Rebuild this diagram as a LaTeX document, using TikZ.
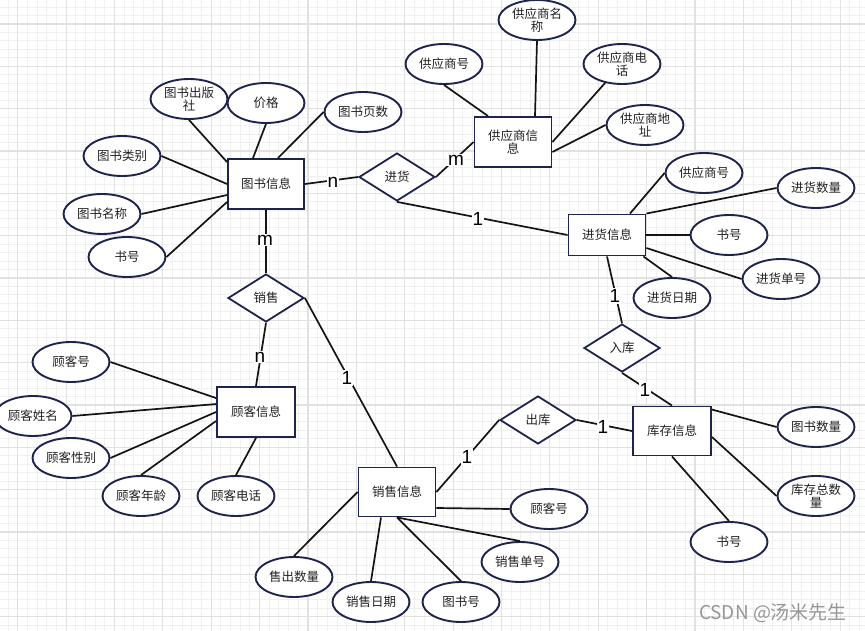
\documentclass[tikz,border=0pt]{standalone}
\usepackage{fontspec}
\setmainfont{Noto Sans CJK SC}
\newfontfamily\cardfont{Liberation Sans}
\usetikzlibrary{shapes.geometric}
\definecolor{navy}{RGB}{30,36,78}
\definecolor{conn}{RGB}{20,20,20}
\definecolor{txt}{RGB}{35,35,35}
\definecolor{gridmaj}{RGB}{225,225,225}
\definecolor{gridmin}{RGB}{240,240,240}
\tikzset{
  attr/.style={ellipse, draw=navy, fill=white, line width=1.9pt, minimum width=77pt,
    minimum height=40pt, inner sep=0pt, align=center, text=txt,
    font=\fontsize{12.5}{13}\selectfont},
  entity/.style={rectangle, draw=navy, fill=white, line width=1.9pt, minimum width=77pt,
    minimum height=50pt, inner sep=0pt, align=center, text=txt,
    font=\fontsize{12.5}{13}\selectfont},
  rel/.style={diamond, draw=navy, fill=white, line width=1.8pt, minimum width=76pt,
    minimum height=48pt, inner sep=0pt, text=txt, font=\fontsize{12.5}{13}\selectfont},
  card/.style={fill=white, inner sep=1pt, text=black, font=\cardfont\fontsize{19}{19}\selectfont},
}
\begin{document}
\begin{tikzpicture}[x=1pt, y=-1pt, line width=1.7pt]
  \useasboundingbox (0,0) rectangle (865,631);
  \fill[white] (0,0) rectangle (865,631);
  \foreach \k in {0,...,88}
    \draw[gridmin, line width=0.9pt] ({8.03+\k*9.675},0) -- ({8.03+\k*9.675},631);
  \foreach \k in {0,...,73}
    \draw[gridmin, line width=0.9pt] (0,{7.07+\k*8.466}) -- (865,{7.07+\k*8.466});
  \foreach \k in {0,...,17}
    \draw[gridmaj, line width=1.1pt] ({17.7+\k*48.375},0) -- ({17.7+\k*48.375},631);
  \foreach \k in {0,...,14}
    \draw[gridmaj, line width=1.1pt] (0,{24+\k*42.33}) -- (865,{24+\k*42.33});

  % book
  \node[entity, minimum width=76pt] (tsinfo) at (266,184) {图书信息};
  \node[attr] (cbs) at (189,99) {图书出版\\社};
  \node[attr] (jiage) at (266,103) {价格};
  \node[attr] (yeshu) at (363,112) {图书页数};
  \node[attr] (leibie) at (122,156) {图书类别};
  \node[attr] (mingcheng) at (102,214) {图书名称};
  \node[attr] (shuhao) at (127,257) {书号};
  \node[rel] (jinhuo) at (397,177) {进货};
  \node[rel] (xiaoshou) at (266,298) {销售};

  % supplier
  \node[entity] (gysinfo) at (513,142) {供应商信\\息};
  \node[attr] (gysh) at (444,64) {供应商号};
  \node[attr] (gysmc) at (537,20) {供应商名\\称};
  \node[attr] (gysdh) at (622,64) {供应商电\\话};
  \node[attr] (gysdz) at (645,125) {供应商地\\址};

  % purchase
  \node[entity, minimum height=41pt] (jhinfo) at (607,235) {进货信息};
  \node[attr] (jhgys) at (704,173) {供应商号};
  \node[attr] (jhsl) at (816,188) {进货数量};
  \node[attr] (jhsh) at (729,235) {书号};
  \node[attr] (jhdh) at (781,279) {进货单号};
  \node[attr] (jhrq) at (672,298) {进货日期};
  \node[rel] (ruku) at (622,348) {入库};

  % stock
  \node[entity, minimum width=78pt, minimum height=49pt] (kcinfo) at (672,431) {库存信息};
  \node[attr] (kcsl) at (816,427) {图书数量};
  \node[attr] (kczs) at (816,496) {库存总数\\量};
  \node[attr] (kcsh) at (729,542) {书号};
  \node[rel] (chuku) at (538,420) {出库};

  % sales
  \node[entity, minimum height=49pt] (xsinfo) at (397,492) {销售信息};
  \node[attr] (xsgk) at (549,509) {顾客号};
  \node[attr] (xsdh) at (520,562) {销售单号};
  \node[attr] (xstsh) at (461,602) {图书号};
  \node[attr] (xsrq) at (371,602) {销售日期};
  \node[attr] (xssl) at (294,577) {售出数量};

  % customer
  \node[entity, minimum width=78pt] (gkinfo) at (256,412) {顾客信息};
  \node[attr] (gkh) at (71,362) {顾客号};
  \node[attr] (gkxm) at (33,416) {顾客姓名};
  \node[attr] (gkxb) at (71,458) {顾客性别};
  \node[attr] (gknl) at (141,496) {顾客年龄};
  \node[attr] (gkdh) at (236,496) {顾客电话};

  \begin{scope}[draw=conn]
    \draw (cbs.south) -- ([yshift=-4pt]tsinfo.north west);
    \draw (jiage.south) -- ([xshift=-13pt]tsinfo.north);
    \draw (yeshu.west) -- ([xshift=12pt]tsinfo.north);
    \draw (leibie.east) -- (tsinfo.west);
    \draw (mingcheng.east) -- ([yshift=-11pt]tsinfo.west);
    \draw (shuhao.east) -- ([yshift=-18pt]tsinfo.west);
    \draw (tsinfo.east) -- (jinhuo.west);
    \draw (tsinfo.south) -- (xiaoshou.north);

    \draw (gysh.south) -- ([xshift=-25pt]gysinfo.north);
    \draw (gysmc.south) -- ([xshift=22pt]gysinfo.north);
    \draw (gysdh) -- (gysinfo.east);
    \draw (gysdz.west) -- ([yshift=-10pt]gysinfo.east);
    \draw (jinhuo.east) -- (gysinfo.west);
    \draw (jinhuo.south) -- (jhinfo.west);

    \draw (jhgys.west) -- ([xshift=23pt]jhinfo.north);
    \draw (jhsl.west) -- (jhinfo.north east);
    \draw (jhsh.west) -- (jhinfo.east);
    \draw (jhdh.west) -- ([yshift=-13pt]jhinfo.east);
    \draw (jhrq.north) -- ([xshift=-3pt]jhinfo.south east);
    \draw (jhinfo.south) -- (ruku.north);
    \draw (ruku.south) -- (kcinfo.north);

    \draw (kcsl.west) -- ([yshift=-4pt]kcinfo.north east);
    \draw (kczs.west) -- ([yshift=-6pt]kcinfo.east);
    \draw (kcsh.north) -- (kcinfo.south);
    \draw (chuku.east) -- (kcinfo.west);
    \draw (xsinfo.east) -- (chuku.west);

    \draw (xsgk.west) -- ([yshift=-16pt]xsinfo.east);
    \draw (xsdh.north) -- (xsinfo.south);
    \draw (xstsh.north) -- (xsinfo.south);
    \draw (xsrq.north) -- ([xshift=-16pt]xsinfo.south);
    \draw (xssl.north) -- (xsinfo.west);
    \draw (xiaoshou.east) -- (xsinfo.north);
    \draw (xiaoshou.south) -- (gkinfo.north);

    \draw (gkh.east) -- ([yshift=-12pt]gkinfo.north west);
    \draw (gkxm.east) -- ([yshift=-18pt]gkinfo.north west);
    \draw (gkxb.east) -- (gkinfo.west);
    \draw (gknl.north) -- ([yshift=-9pt]gkinfo.west);
    \draw (gkdh.north) -- (gkinfo.south);
  \end{scope}

  \node[card] (lbl1) at (333,182) {n};
  \node[card] (lbl2) at (265,240) {m};
  \node[card] (lbl3) at (456,160) {m};
  \node[card] (lbl4) at (478,219) {1};
  \node[card] (lbl5) at (615,296) {1};
  \node[card] (lbl6) at (260,357) {n};
  \node[card] (lbl7) at (347,378) {1};
  \node[card] (lbl8) at (645,390) {1};
  \node[card] (lbl9) at (603,427) {1};
  \node[card] (lbl10) at (467,457) {1};

  \node[text={rgb,255:red,150;green,150;blue,150}, font=\fontsize{19}{19}\selectfont,
    inner sep=0pt] (wm) at (773,613) {CSDN @汤米先生};
\end{tikzpicture}
\end{document}
